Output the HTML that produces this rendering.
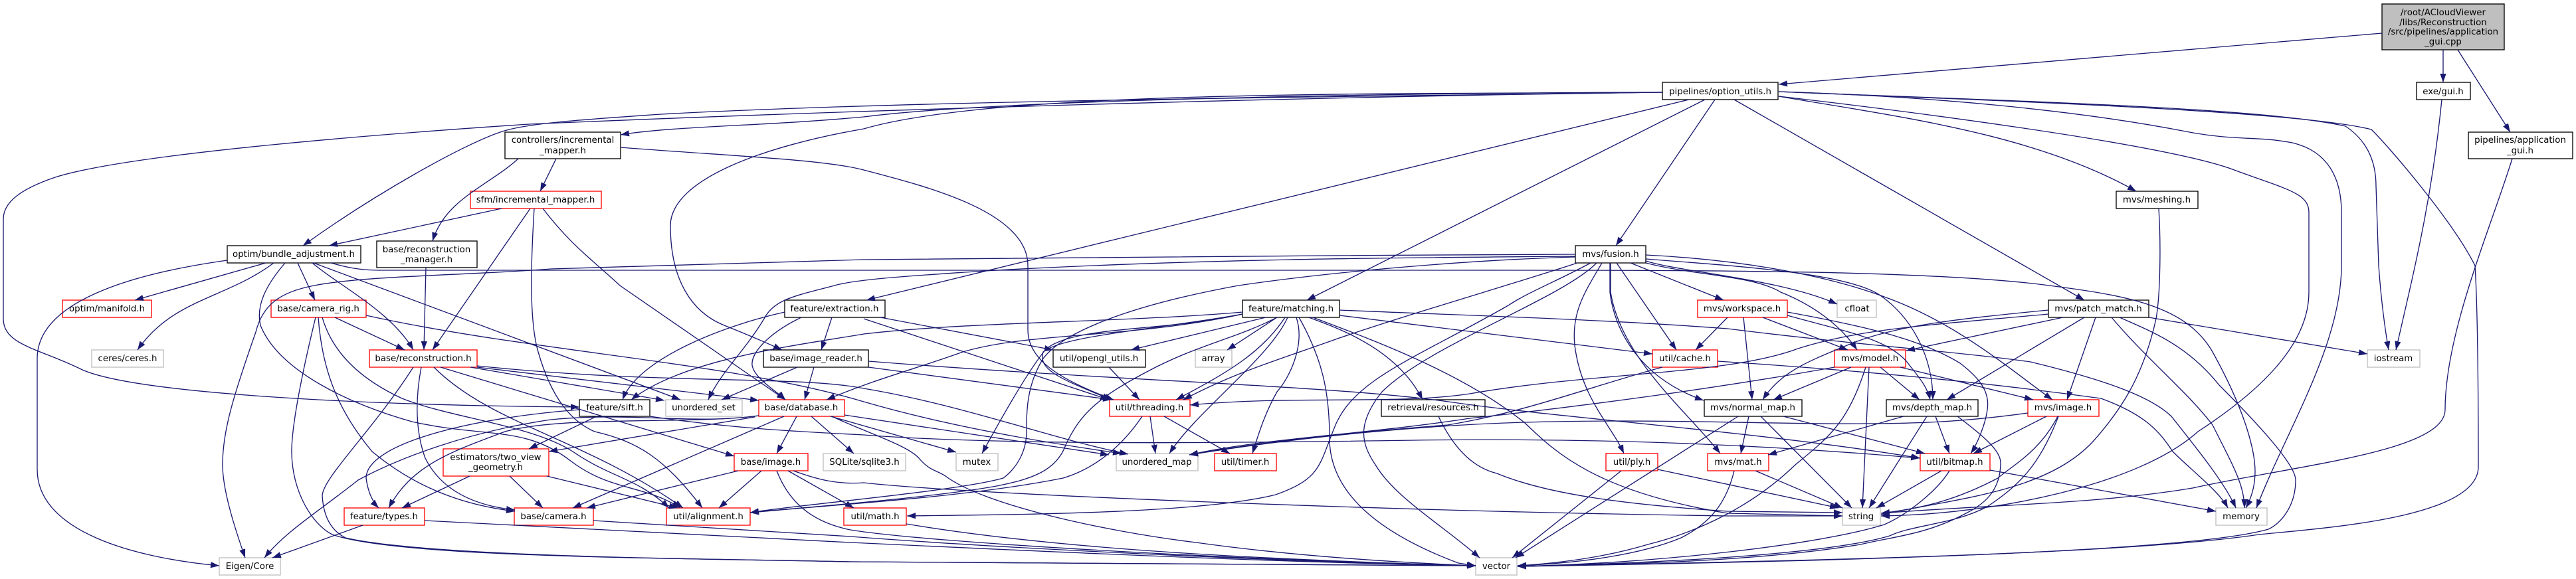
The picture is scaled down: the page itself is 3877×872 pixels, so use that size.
<!DOCTYPE html>
<html><head><meta charset="utf-8"><style>
html,body{margin:0;padding:0;background:#fff}
svg{display:block}
text{font-family:"DejaVu Sans",sans-serif;font-size:13.33px;text-anchor:middle;fill:#000}
.k rect{fill:#fff;stroke:#000;stroke-width:1.33}
.r rect{fill:#fff;stroke:#ff0000;stroke-width:1.33}
.g rect{fill:#fff;stroke:#bfbfbf;stroke-width:1.33}
</style></head><body>
<svg xmlns="http://www.w3.org/2000/svg" width="3877" height="872" viewBox="0 0 3877 872">
<defs><marker id="a" markerUnits="userSpaceOnUse" markerWidth="14" markerHeight="10" refX="13" refY="4.65" orient="auto"><path d="M0,0L13,4.65L0,9.3z" fill="#191970"/></marker></defs>
<rect width="3877" height="872" fill="#fff"/>
<g class="k">
<rect x="3585" y="6" width="184" height="69" style="fill:#bfbfbf"/>
<rect x="2502" y="124" width="174" height="26"/>
<rect x="3637" y="124" width="81" height="26"/>
<rect x="760" y="199" width="174" height="40"/>
<rect x="3715" y="199" width="157" height="40"/>
<rect x="3185" y="288" width="123" height="26"/>
<rect x="342" y="370" width="201" height="26"/>
<rect x="567" y="363" width="151" height="40"/>
<rect x="2371" y="370" width="106" height="26"/>
<rect x="1181" y="452" width="151" height="26"/>
<rect x="1870" y="452" width="146" height="26"/>
<rect x="3083" y="452" width="151" height="26"/>
<rect x="1149" y="527" width="158" height="26"/>
<rect x="1585" y="527" width="139" height="26"/>
<rect x="872" y="602" width="106" height="25"/>
<rect x="2079" y="602" width="156" height="25"/>
<rect x="2565" y="602" width="147" height="25"/>
<rect x="2839" y="602" width="138" height="25"/>
</g>
<g class="r">
<rect x="708" y="288" width="197" height="26"/>
<rect x="94" y="452" width="134" height="26"/>
<rect x="408" y="452" width="143" height="26"/>
<rect x="2555" y="452" width="135" height="26"/>
<rect x="556" y="527" width="162" height="26"/>
<rect x="2487" y="527" width="98" height="26"/>
<rect x="2761" y="527" width="107" height="26"/>
<rect x="1142" y="602" width="129" height="25"/>
<rect x="1670" y="602" width="121" height="25"/>
<rect x="3052" y="602" width="107" height="25"/>
<rect x="667" y="676" width="159" height="41"/>
<rect x="1105" y="683" width="111" height="26"/>
<rect x="1828" y="683" width="93" height="26"/>
<rect x="2417" y="683" width="78" height="26"/>
<rect x="2570" y="683" width="92" height="26"/>
<rect x="2890" y="683" width="105" height="26"/>
<rect x="518" y="765" width="121" height="26"/>
<rect x="774" y="765" width="119" height="26"/>
<rect x="1003" y="765" width="126" height="26"/>
<rect x="1270" y="765" width="94" height="26"/>
</g>
<g class="g">
<rect x="138" y="527" width="108" height="26"/>
<rect x="1799" y="527" width="55" height="26"/>
<rect x="2765" y="452" width="59" height="26"/>
<rect x="3563" y="527" width="79" height="26"/>
<rect x="1002" y="602" width="115" height="25"/>
<rect x="1239" y="683" width="124" height="26"/>
<rect x="1439" y="683" width="63" height="26"/>
<rect x="1680" y="683" width="123" height="26"/>
<rect x="2773" y="765" width="57" height="26"/>
<rect x="3335" y="765" width="77" height="26"/>
<rect x="330" y="840" width="92" height="26"/>
<rect x="2221" y="840" width="62" height="26"/>
</g>
<g fill="none" stroke="#191970" stroke-width="1.33" marker-end="url(#a)">
<path d="M3585,50L2677,127"/>
<path d="M3677,75L3677,124"/>
<path d="M3699,75L3778,199"/>
<path d="M3675,150C3660,300 3635,400 3606,527"/>
<path d="M3781,239C3750,340 3680,500 3680,617C3680,680 3460,700 3300,735C3150,760 2990,760 2831,773"/>
<path d="M2677,138C2900,145 3120,165 3290,198C3360,212 3400,205 3450,215C3505,228 3524,270 3524,320L3524,400C3524,520 3440,650 3396,765"/>
<path d="M2677,138C2950,150 3400,160 3530,190C3560,210 3576,240 3576,280L3580,400Q3585,470 3595,527"/>
<path d="M2677,138C2950,150 3450,165 3569,195C3590,215 3690,330 3725,400C3730,480 3730,640 3730,703C3730,780 3500,795 3400,805C3200,835 2700,845 2284,853"/>
<path d="M2677,145C2850,165 3250,215 3360,255C3440,285 3475,290 3475,320L3475,440C3475,520 3400,590 3308,650C3220,730 3000,775 2831,777"/>
<path d="M2677,145C2850,175 3060,200 3215,288"/>
<path d="M2610,150L3137,452"/>
<path d="M2502,139C2100,145 1400,150 995,172C880,180 800,185 759,197C700,215 560,295 456,370"/>
<path d="M2502,139C2000,145 1300,165 796,187C600,200 200,230 83,267C30,285 5,305 5,330L5,480C5,520 60,525 124,557C200,590 500,610 872,613"/>
<path d="M2502,139C2100,140 1500,150 1300,176C1150,190 1010,190 934,203"/>
<path d="M2502,139C2100,142 1500,135 1300,194C1150,220 1009,270 1009,340C1009,420 1040,470 1090,490Q1140,510 1177,527"/>
<path d="M2542,150L1304,452"/>
<path d="M2566,150L1967,452"/>
<path d="M2581,150L2432,370"/>
<path d="M837,239L813,288"/>
<path d="M780,239C735,280 670,300 651,363"/>
<path d="M934,222C1100,235 1240,240 1300,256C1400,282 1547,320 1547,400L1547,497C1547,540 1590,570 1676,602"/>
<path d="M755,314L495,370"/>
<path d="M798,314L651,527"/>
<path d="M804,314C800,380 795,480 810,530C830,600 860,635 895,650C960,665 1000,690 1057,765"/>
<path d="M817,314C860,370 890,390 933,430L1182,602"/>
<path d="M641,403L638,527"/>
<path d="M342,392C250,405 56,440 56,540L56,707C56,800 200,840 330,852"/>
<path d="M400,396L203,452"/>
<path d="M412,396C340,450 260,450 207,527"/>
<path d="M429,396C400,430 385,460 392,490C420,560 530,610 620,635C730,660 790,640 860,695C920,740 970,730 1024,765"/>
<path d="M448,396L474,452"/>
<path d="M470,396C510,430 590,470 622,527"/>
<path d="M472,396L1024,602"/>
<path d="M498,396C520,402 540,407 570,407L2100,407C2500,407 2900,405 3084,430C3200,445 3290,460 3330,530C3380,620 3394,680 3394,710Q3394,740 3380,765"/>
<path d="M2371,383C2000,385 1500,387 1300,391C1100,396 950,400 829,405C700,415 550,415 473,430C420,440 395,460 385,500C350,600 335,650 335,700C335,740 355,800 369,840"/>
<path d="M2371,386C2100,388 1800,390 1482,408C1380,415 1290,420 1256,430C1200,445 1165,450 1150,480C1120,530 1085,560 1066,602"/>
<path d="M2371,387C2200,392 2000,410 1864,430C1700,460 1600,500 1570,540C1545,580 1545,620 1545,650C1545,680 1530,705 1510,720C1440,740 1200,760 1129,772"/>
<path d="M1922,478C1860,510 1800,520 1726,560C1650,600 1625,625 1604,670C1590,710 1550,722 1500,732C1400,750 1200,765 1129,772"/>
<path d="M1719,627C1690,670 1650,705 1600,720C1450,750 1250,760 1129,772"/>
<path d="M2374,396C2270,430 2130,470 2013,510C1930,540 1860,560 1781,602"/>
<path d="M2394,396C2340,425 2300,440 2270,460C2130,540 2040,570 2010,640C1985,700 1990,720 1920,745C1800,775 1500,775 1365,777"/>
<path d="M2403,396C2350,450 2150,520 2080,590C2040,640 2050,670 2070,700C2100,750 2170,790 2227,840"/>
<path d="M2411,396C2385,440 2365,470 2370,520C2380,600 2425,640 2444,683"/>
<path d="M2423,396L2423,440C2430,500 2470,570 2564,603"/>
<path d="M2424,396L2424,440C2440,540 2540,620 2589,683"/>
<path d="M2433,396L2523,527"/>
<path d="M2454,396L2594,452"/>
<path d="M2477,384C2600,390 2740,410 2844,450C2950,490 3030,560 3089,602"/>
<path d="M2477,390C2600,400 2780,410 2830,445C2880,480 2909,540 2909,602"/>
<path d="M2477,393C2530,410 2680,420 2765,458"/>
<path d="M2477,396C2550,415 2640,415 2680,440C2730,460 2770,490 2795,527"/>
<path d="M1181,470C1090,490 960,540 937,602"/>
<path d="M1206,478C1160,500 1130,530 1132,550C1135,570 1170,590 1182,602"/>
<path d="M1252,478L1236,527"/>
<path d="M1325,478L1585,527"/>
<path d="M1300,480L1669,602"/>
<path d="M1200,553L1086,602"/>
<path d="M1225,553L1211,602"/>
<path d="M1307,553L1673,602"/>
<path d="M1307,544C1700,575 2000,580 2180,605C2350,630 2650,650 2890,690"/>
<path d="M475,478C455,560 439,640 439,680C439,740 470,790 500,805C600,840 1000,840 1280,846L2221,852"/>
<path d="M479,478C485,560 510,620 560,680C620,730 690,760 775,770"/>
<path d="M485,478C500,530 540,570 605,600C680,630 800,640 862,680C920,720 960,720 1007,765"/>
<path d="M504,478L609,527"/>
<path d="M551,475C800,530 1100,545 1300,605C1420,640 1560,665 1688,683"/>
<path d="M718,551C1000,580 1200,565 1300,585C1450,610 1580,660 1698,684"/>
<path d="M718,553L1142,603"/>
<path d="M708,553L1000,603"/>
<path d="M663,553L1105,687"/>
<path d="M653,553C740,640 880,660 1028,765"/>
<path d="M634,553C625,600 625,650 640,690C660,730 700,760 775,768"/>
<path d="M622,553C560,650 485,720 485,747C487,780 500,800 520,810C650,840 1100,842 1280,846L2221,852"/>
<path d="M872,617C700,630 551,670 551,720Q555,750 570,765"/>
<path d="M898,627L796,676"/>
<path d="M978,627C1100,645 1200,650 1300,655C1500,670 1800,668 2129,663C2350,660 2600,665 2889,690"/>
<path d="M1142,626C1040,640 950,620 829,632C705,650 600,690 539,723C480,770 430,800 398,840"/>
<path d="M1142,626C1040,640 850,625 760,650C680,680 620,700 585,765"/>
<path d="M1136,628L826,680"/>
<path d="M1180,627L862,765"/>
<path d="M1199,627L1169,683"/>
<path d="M1221,627L1285,683"/>
<path d="M1250,627L1439,681"/>
<path d="M1271,625L1669,685"/>
<path d="M1252,627C1300,650 1365,670 1383,690C1400,710 1410,708 1423,717C1480,760 1660,800 1800,817C1950,838 2100,847 2221,852"/>
<path d="M1111,709L883,765"/>
<path d="M1146,709L1082,765"/>
<path d="M1169,709C1185,750 1215,785 1280,798C1400,818 1900,845 2221,852"/>
<path d="M1186,709L1285,765"/>
<path d="M1194,709C1230,722 1260,730 1300,727C1460,745 2100,770 2600,777L2773,777"/>
<path d="M707,717L605,765"/>
<path d="M767,717L817,765"/>
<path d="M823,717L1020,765"/>
<path d="M546,791L410,840"/>
<path d="M639,784L1280,817C1600,832 1950,848 2221,852"/>
<path d="M893,784L1280,808C1500,825 1900,845 2221,852"/>
<path d="M1364,789C1550,820 1800,840 2221,852"/>
<path d="M1870,470C1700,485 1450,485 1300,503C1200,520 1030,540 950,602"/>
<path d="M1870,473C1700,510 1550,500 1449,530C1380,555 1320,570 1244,602"/>
<path d="M1870,473C1750,500 1620,490 1575,525Q1545,560 1478,683"/>
<path d="M1870,473C1750,495 1600,505 1570,530C1560,560 1610,575 1672,602"/>
<path d="M1905,478L1702,527"/>
<path d="M1922,478L1847,527"/>
<path d="M1934,478C1900,530 1850,560 1770,602"/>
<path d="M1938,478C1910,540 1800,620 1760,683"/>
<path d="M1951,478C1965,520 1940,570 1922,590C1905,620 1895,650 1885,683"/>
<path d="M1955,478C1990,540 2001,590 2001,660C2001,720 2040,790 2195,848L2221,852"/>
<path d="M1970,478C2000,490 2100,520 2141,602"/>
<path d="M1976,478C2060,510 2200,560 2295,637C2340,680 2400,740 2600,773L2773,777"/>
<path d="M2016,475L2487,533"/>
<path d="M2016,467C2200,475 2400,480 2600,495C2800,520 2950,530 3056,545C3180,575 3240,600 3268,627C3310,680 3350,730 3365,765"/>
<path d="M2165,627C2190,680 2220,705 2253,713C2330,745 2450,760 2600,770L2773,772"/>
<path d="M1731,627L1739,683"/>
<path d="M1752,627L1851,683"/>
<path d="M1669,553L1715,602"/>
<path d="M2502,553C2400,580 2300,620 2179,640C2050,650 1900,665 1790,685"/>
<path d="M2585,544C2800,558 2980,575 3162,600C3230,625 3250,650 3270,680C3300,710 3340,740 3353,765"/>
<path d="M3083,473C2900,490 2800,495 2706,525C2600,565 2400,560 2212,593C2100,610 1950,595 1791,610"/>
<path d="M2624,478L2637,602"/>
<path d="M2653,478L2781,527"/>
<path d="M2600,478L2552,527"/>
<path d="M2690,470C2800,490 2890,510 2950,547C2980,570 2995,590 2991,617C2988,640 2975,670 2966,683"/>
<path d="M2690,475C2780,500 2840,510 2870,545C2885,565 2900,580 2905,602"/>
<path d="M2761,553C2600,582 2400,610 2212,630C2050,655 1900,660 1790,685"/>
<path d="M2786,553L2669,602"/>
<path d="M2808,553C2780,640 2750,660 2702,700C2640,760 2560,800 2480,820C2420,838 2350,848 2284,852"/>
<path d="M2813,553L2803,765"/>
<path d="M2830,553L2889,602"/>
<path d="M2860,553L3060,602"/>
<path d="M2632,627L2620,683"/>
<path d="M2650,627L2787,765"/>
<path d="M2684,627L2897,683"/>
<path d="M2616,627L2281,840"/>
<path d="M2865,627L2661,685"/>
<path d="M2900,627L2813,765"/>
<path d="M2913,627L2934,683"/>
<path d="M2946,627C2990,660 3011,680 3011,697C3011,740 2985,760 2959,773C2900,805 2850,808 2800,820C2650,845 2450,850 2284,853"/>
<path d="M3052,622C2950,636 2880,638 2803,638C2700,640 2500,630 2295,636C2150,640 1963,657 1790,685"/>
<path d="M3080,627L2970,683"/>
<path d="M3097,627C3070,680 3030,700 3007,720C2950,750 2900,765 2831,773"/>
<path d="M3098,627C3070,700 3040,730 2991,763C2940,790 2880,790 2844,807C2750,835 2500,848 2284,853"/>
<path d="M2922,709L2824,765"/>
<path d="M2934,709C2915,740 2870,775 2836,790C2740,820 2500,848 2284,853"/>
<path d="M2995,708L3335,770"/>
<path d="M2642,709L2773,765"/>
<path d="M2610,709C2600,750 2580,785 2530,810C2470,835 2380,848 2284,852"/>
<path d="M2495,707L2767,765"/>
<path d="M2440,709L2276,840"/>
<path d="M3249,314C3252,360 3252,440 3245,480C3225,570 3190,620 3150,665C3080,740 2950,750 2831,775"/>
<path d="M3083,467C2950,480 2850,490 2780,520C2720,545 2680,560 2653,602"/>
<path d="M3105,478L2869,528"/>
<path d="M3137,478L2930,602"/>
<path d="M3154,478L3111,602"/>
<path d="M3178,478C3230,540 3292,590 3330,640C3360,700 3378,730 3378,765"/>
<path d="M3190,478C3240,500 3292,520 3340,580C3400,640 3455,700 3455,723C3455,765 3430,790 3414,797C3300,830 2800,845 2284,853"/>
<path d="M3234,478L3563,533"/>
</g>
<g>
<text x="3677" y="23">/root/ACloudViewer</text>
<text x="3677" y="38">/libs/Reconstruction</text>
<text x="3677" y="52">/src/pipelines/application</text>
<text x="3677" y="67">_gui.cpp</text>
<text x="2589" y="142">pipelines/option_utils.h</text>
<text x="3677" y="142">exe/gui.h</text>
<text x="847" y="215">controllers/incremental</text>
<text x="847" y="231">_mapper.h</text>
<text x="3793" y="215">pipelines/application</text>
<text x="3793" y="231">_gui.h</text>
<text x="806" y="305">sfm/incremental_mapper.h</text>
<text x="3246" y="305">mvs/meshing.h</text>
<text x="442" y="387">optim/bundle_adjustment.h</text>
<text x="642" y="380">base/reconstruction</text>
<text x="642" y="395">_manager.h</text>
<text x="2424" y="387">mvs/fusion.h</text>
<text x="161" y="469">optim/manifold.h</text>
<text x="479" y="469">base/camera_rig.h</text>
<text x="1256" y="469">feature/extraction.h</text>
<text x="1943" y="469">feature/matching.h</text>
<text x="2622" y="469">mvs/workspace.h</text>
<text x="2795" y="469">cfloat</text>
<text x="3158" y="469">mvs/patch_match.h</text>
<text x="192" y="544">ceres/ceres.h</text>
<text x="637" y="544">base/reconstruction.h</text>
<text x="1228" y="544">base/image_reader.h</text>
<text x="1654" y="544">util/opengl_utils.h</text>
<text x="1826" y="544">array</text>
<text x="2536" y="544">util/cache.h</text>
<text x="2814" y="544">mvs/model.h</text>
<text x="3602" y="544">iostream</text>
<text x="925" y="618">feature/sift.h</text>
<text x="1059" y="618">unordered_set</text>
<text x="1206" y="618">base/database.h</text>
<text x="1730" y="618">util/threading.h</text>
<text x="2157" y="618">retrieval/resources.h</text>
<text x="2638" y="618">mvs/normal_map.h</text>
<text x="2908" y="618">mvs/depth_map.h</text>
<text x="3105" y="618">mvs/image.h</text>
<text x="746" y="693">estimators/two_view</text>
<text x="746" y="708">_geometry.h</text>
<text x="1160" y="700">base/image.h</text>
<text x="1301" y="700">SQLite/sqlite3.h</text>
<text x="1470" y="700">mutex</text>
<text x="1741" y="700">unordered_map</text>
<text x="1874" y="700">util/timer.h</text>
<text x="2456" y="700">util/ply.h</text>
<text x="2616" y="700">mvs/mat.h</text>
<text x="2942" y="700">util/bitmap.h</text>
<text x="578" y="782">feature/types.h</text>
<text x="833" y="782">base/camera.h</text>
<text x="1066" y="782">util/alignment.h</text>
<text x="1317" y="782">util/math.h</text>
<text x="2801" y="782">string</text>
<text x="3373" y="782">memory</text>
<text x="376" y="857">Eigen/Core</text>
<text x="2252" y="857">vector</text>
</g>
</svg>
</body></html>
